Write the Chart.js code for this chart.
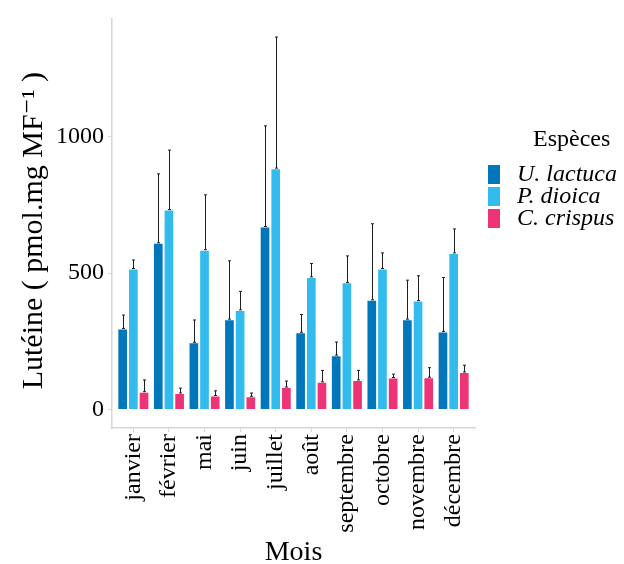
<!DOCTYPE html>
<html>
<head>
<meta charset="utf-8">
<script src="https://cdn.jsdelivr.net/npm/chart.js@4.4.1/dist/chart.umd.min.js"></script>
<style>
  html, body { margin: 0; padding: 0; background: #ffffff; }
  #wrap { position: relative; width: 624px; height: 564px; overflow: hidden; }
  #c { position: absolute; left: 0; top: 0; }
  .lg { position: absolute; font-family: "Liberation Serif", "DejaVu Serif", serif; color: #000; white-space: nowrap; }
  .lgt { font-size: 24px; line-height: 24px; }
  .lgi { font-size: 24px; line-height: 22px; font-style: italic; }
  .key { position: absolute; width: 12px; height: 19px; }
</style>
</head>
<body>
<div id="wrap">
  <canvas id="c" width="624" height="564"></canvas>
  <div class="lg lgt" style="left:533px; top:126px;">Espèces</div>
  <div class="key" style="left:488px; top:165px; background:#0077BB;"></div>
  <div class="key" style="left:488px; top:187px; background:#33BBEE;"></div>
  <div class="key" style="left:488px; top:209px; background:#EE3377;"></div>
  <div class="lg lgi" style="left:517px; top:162px;">U. lactuca</div>
  <div class="lg lgi" style="left:517px; top:184px;">P. dioica</div>
  <div class="lg lgi" style="left:517px; top:206px;">C. crispus</div>
</div>
<script>
// ---- data ----
const categories = ["janvier", "février", "mai", "juin", "juillet", "août", "septembre", "octobre", "novembre", "décembre"];
const seriesNames = ["U. lactuca", "P. dioica", "C. crispus"];
const uLactuca   = [297, 611, 246, 331, 671, 283, 199, 402, 331, 286];
const uLactucaSd = [49, 253, 82, 214, 369, 65, 48, 279, 143, 198];
const pDioica    = [517, 733, 586, 365, 885, 486, 466, 517, 399, 574];
const pDioicaSd  = [31, 218, 201, 68, 481, 49, 97, 57, 91, 88];
const cCrispus   = [65, 60, 51, 48, 82, 101, 108, 117, 118, 137];
const cCrispusSd = [43, 18, 17, 12, 22, 42, 35, 12, 35, 25];
const yTicks = [0, 500, 1000];

const colors = ["#0077BB", "#33BBEE", "#EE3377"];
const serif = "'Liberation Serif', 'DejaVu Serif', serif";
const axisGrey = "#d6d6d6";

const allVals = [uLactuca, pDioica, cCrispus];
const allSd = [uLactucaSd, pDioicaSd, cCrispusSd];
let topVal = 0;
allVals.forEach((arr, s) => arr.forEach((v, i) => { topVal = Math.max(topVal, v + allSd[s][i]); }));
const yPad = topVal * 0.05;

const datasets = allVals.map((arr, s) => ({
  label: seriesNames[s],
  data: arr.map((v, i) => ({ x: i, y: v })),
  sd: allSd[s],
  backgroundColor: colors[s],
  borderColor: "rgba(255,255,255,0.7)",
  borderWidth: 1,
  categoryPercentage: 0.9,
  barPercentage: 1.0
}));

const errorBars = {
  id: "errorBars",
  afterDatasetsDraw(chart) {
    const ctx = chart.ctx;
    const ys = chart.scales.y;
    ctx.save();
    ctx.strokeStyle = "#1e1e1e";
    ctx.lineWidth = 1;
    chart.data.datasets.forEach((ds, di) => {
      const meta = chart.getDatasetMeta(di);
      meta.data.forEach((bar, i) => {
        const v = ds.data[i].y;
        const y0 = ys.getPixelForValue(v);
        const y1 = ys.getPixelForValue(v + ds.sd[i]);
        const x = Math.round(bar.x) + 0.5;
        ctx.beginPath();
        ctx.moveTo(x, y0); ctx.lineTo(x, y1);
        ctx.moveTo(x - 1.5, y1); ctx.lineTo(x + 1.5, y1);
        ctx.moveTo(x - 1.5, y0); ctx.lineTo(x + 1.5, y0);
        ctx.stroke();
      });
    });
    ctx.restore();
  }
};

new Chart(document.getElementById("c"), {
  type: "bar",
  data: { datasets },
  plugins: [errorBars],
  options: {
    responsive: false,
    animation: false,
    devicePixelRatio: 1,
    layout: { padding: { top: 13, right: 149, left: 0, bottom: 0 } },
    plugins: { legend: { display: false }, tooltip: { enabled: false } },
    scales: {
      x: {
        type: "linear",
        offset: false,
        min: -0.6,
        max: categories.length - 0.4,
        afterBuildTicks: (scale) => { scale.ticks = categories.map((_, i) => ({ value: i })); },
        afterFit: (scale) => { scale.height = 136; },
        ticks: {
          autoSkip: false,
          minRotation: 90,
          maxRotation: 90,
          padding: 2,
          color: "#000",
          font: { family: serif, size: 24 },
          callback: (v) => categories[v]
        },
        grid: { display: true, offset: false, drawOnChartArea: false, drawTicks: true, tickLength: 4, color: axisGrey, lineWidth: 1 },
        border: { display: true, color: axisGrey, width: 1.5 },
        title: { display: true, text: "Mois", color: "#000", font: { family: serif, size: 28, lineHeight: 0.8 }, padding: 0 }
      },
      y: {
        min: -yPad,
        max: topVal + yPad,
        afterBuildTicks: (scale) => { scale.ticks = yTicks.map(v => ({ value: v })); },
        afterFit: (scale) => { scale.width = 112; },
        ticks: { padding: 4, color: "#000", font: { family: serif, size: 24 }, callback: (v) => String(v) },
        grid: { display: true, drawOnChartArea: false, drawTicks: true, tickLength: 4, color: axisGrey, lineWidth: 1 },
        border: { display: true, color: axisGrey, width: 1.5 },
        title: { display: true, text: "Lutéine ( pmol.mg MF⁻¹ )\u2002", color: "#000", font: { family: serif, size: 30, lineHeight: 1 }, padding: { top: 19, bottom: 0 } }
      }
    }
  }
});
</script>
</body>
</html>
